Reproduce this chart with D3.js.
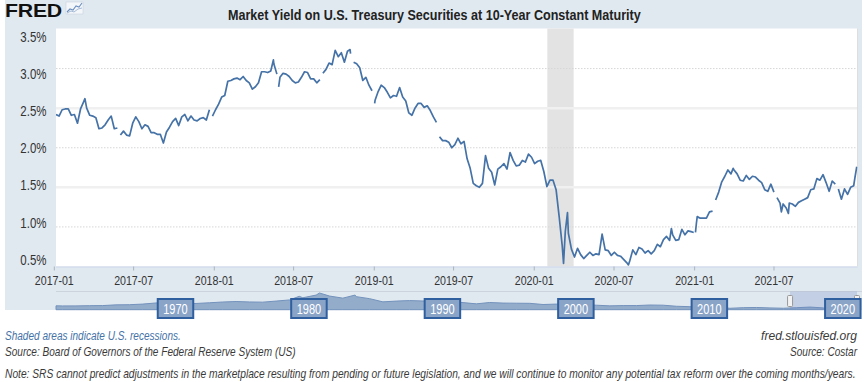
<!DOCTYPE html>
<html>
<head>
<meta charset="utf-8">
<script src="https://cdn.jsdelivr.net/npm/d3@7/dist/d3.min.js"></script>
<style>
  body { margin: 0; background: #fff; }
  svg { display: block; }
  text { font-family: "Liberation Sans", Arial, sans-serif; }
</style>
</head>
<body>
<svg id="chart" width="866" height="382"></svg>
<script>
const titleText = 'Market Yield on U.S. Treasury Securities at 10-Year Constant Maturity';
const yTickValues = [0.5, 1.0, 1.5, 2.0, 2.5, 3.0, 3.5];
const xTickLabels = ['2017-01', '2017-07', '2018-01', '2018-07', '2019-01', '2019-07', '2020-01', '2020-07', '2021-01', '2021-07'];
const recession = ['2020-02-01', '2020-04-01'];

// weekly (Friday) readings of the 10-year yield, %
const yields2017 = [2.42, 2.40, 2.48, 2.49, 2.49, 2.41, 2.42, 2.31, 2.49, 2.58, 2.50, 2.41, 2.40,
  2.38, 2.24, 2.25, 2.29, 2.35, 2.40, 2.24, 2.25, 2.16, 2.21, 2.16, 2.15, 2.31,
  2.39, 2.33, 2.24, 2.29, 2.27, 2.19, 2.19, 2.17, 2.17, 2.06, 2.20, 2.26, 2.33,
  2.37, 2.28, 2.39, 2.42, 2.34, 2.40, 2.35, 2.34, 2.37, 2.38, 2.35, 2.48, 2.40];
const yields2018 = [2.48, 2.55, 2.64, 2.66, 2.84, 2.85, 2.87, 2.88, 2.86, 2.90, 2.85, 2.82, 2.74,
  2.77, 2.82, 2.96, 2.96, 2.95, 2.97, 3.06, 2.93, 2.89, 2.94, 2.93, 2.90, 2.85,
  2.82, 2.83, 2.89, 2.96, 2.95, 2.87, 2.87, 2.82, 2.86, 2.94, 2.99, 3.07, 3.05,
  3.23, 3.15, 3.20, 3.08, 3.22, 3.19, 3.08, 3.06, 3.01, 2.85, 2.89, 2.79, 2.72];
const yields2019 = [2.60, 2.71, 2.79, 2.76, 2.70, 2.63, 2.66, 2.65, 2.76, 2.64, 2.59, 2.44, 2.41,
  2.50, 2.56, 2.56, 2.51, 2.53, 2.47, 2.39, 2.32, 2.14, 2.09, 2.09, 2.07, 2.00,
  2.04, 2.12, 2.05, 2.08, 1.86, 1.74, 1.55, 1.52, 1.50, 1.55, 1.90, 1.74, 1.69,
  1.53, 1.73, 1.76, 1.80, 1.73, 1.94, 1.84, 1.77, 1.78, 1.84, 1.82, 1.92, 1.88];
const yields2020 = [1.80, 1.83, 1.84, 1.70, 1.51, 1.59, 1.59, 1.47, 1.13, 0.76, 0.94, 0.92, 0.72,
  0.62, 0.73, 0.65, 0.60, 0.64, 0.68, 0.64, 0.66, 0.65, 0.91, 0.71, 0.70, 0.64,
  0.68, 0.64, 0.63, 0.59, 0.55, 0.57, 0.71, 0.65, 0.74, 0.72, 0.67, 0.70, 0.66,
  0.70, 0.78, 0.75, 0.84, 0.88, 0.83, 0.90, 0.83, 0.84, 0.97, 0.90, 0.95, 0.94];
const yields2021 = [null, 1.13, 1.11, 1.11, 1.11, 1.19, 1.20, 1.34, 1.44, 1.57, 1.64, 1.72, 1.67,
  1.72, 1.67, 1.59, 1.58, 1.65, 1.60, 1.64, 1.63, 1.59, 1.56, 1.47, 1.45, 1.54,
  1.44, 1.37, 1.30, 1.29, 1.24, 1.30, 1.29, 1.26, 1.31, 1.33, 1.35, 1.37, 1.47,
  1.48, 1.61, 1.59, 1.66, 1.56, 1.45, 1.58, 1.54, 1.48, 1.35, 1.48, 1.41, 1.50, 1.52];
const yields2022 = [1.76];

// mid-week highs / lows that show in the picture
const extraPoints = [
  ['2017-03-13', 2.62], ['2018-05-17', 3.11], ['2018-05-29', 2.77], ['2018-11-08', 3.24],
  ['2019-01-03', 2.56], ['2020-03-09', 0.54], ['2020-03-18', 1.18], ['2020-08-04', 0.52],
  ['2020-11-10', 0.98], ['2020-12-31', 0.93], ['2021-01-04', 0.93], ['2021-01-06', 1.04],
  ['2021-03-31', 1.74], ['2021-07-19', 1.19], ['2021-08-04', 1.17], ['2022-01-03', 1.63]
];
// holidays with no reading (breaks in the line)
const gapDates = ['2017-05-29', '2017-12-25', '2018-05-28', '2018-09-03', '2018-11-12',
  '2019-01-01', '2019-05-27', '2021-02-15', '2021-07-05', '2021-11-25'];

// navigator: annual averages 1962-2021
const navFirstYear = 1962;
const navAnnual = [3.95, 4.00, 4.19, 4.28, 4.93, 5.07, 5.64, 6.67, 7.35, 6.16,
  6.21, 6.85, 7.56, 7.99, 7.61, 7.42, 8.41, 9.43, 11.43, 13.92,
  13.01, 11.10, 12.46, 10.62, 7.67, 8.39, 8.85, 8.49, 8.55, 7.86,
  7.01, 5.87, 7.09, 6.57, 6.44, 6.35, 5.26, 5.65, 6.03, 5.02,
  4.61, 4.01, 4.27, 4.29, 4.80, 4.63, 3.66, 3.26, 3.22, 2.78,
  1.80, 2.35, 2.54, 2.14, 1.84, 2.33, 2.91, 2.14, 0.89, 1.45];
const navExtra = [['1962-01-02', 4.06], ['1980-03-25', 12.75], ['1981-09-30', 15.8],
  ['1984-05-30', 13.9], ['2020-03-09', 0.54], ['2022-01-07', 1.76]];
const navLabelYears = [1970, 1980, 1990, 2000, 2010, 2020];
const selectedRange = ['2017-01-01', '2022-01-07'];

const footLeft = ['Shaded areas indicate U.S. recessions.', 'Source: Board of Governors of the Federal Reserve System (US)'];
const footRight = ['fred.stlouisfed.org', 'Source: Costar'];
const noteText = 'Note: SRS cannot predict adjustments in the marketplace resulting from pending or future legislation, and we will continue to monitor any potential tax reform over the coming months/years.';

const parse = d3.timeParse('%Y-%m-%d');
const svg = d3.select('#chart');
const narrow = 0.82;  // no narrow face installed, squeeze the regular one

// squeeze a text horizontally to a given width (or to narrow * its own width)
function fit(sel, width) {
  sel.each(function () {
    const t = d3.select(this);
    const w = this.getComputedTextLength();
    const k = width ? width / w : narrow;
    const x0 = +t.attr('x') || 0, y0 = +t.attr('y') || 0;
    t.attr('x', 0).attr('y', 0)
      .attr('transform', `translate(${x0},${y0}) scale(${k.toFixed(4)},1)`);
  });
}

// build series
const fridays = d3.timeFriday.range(new Date(2017, 0, 1), new Date(2022, 0, 8));
const weekly = [].concat(yields2017, yields2018, yields2019, yields2020, yields2021, yields2022);
const byTime = new Map();
fridays.forEach((d, i) => byTime.set(+d, {date: d, value: weekly[i]}));
extraPoints.forEach(([d, v]) => byTime.set(+parse(d), {date: parse(d), value: v}));
gapDates.forEach((d) => byTime.set(+parse(d), {date: parse(d), value: null}));
const series = Array.from(byTime.values()).sort((a, b) => a.date - b.date);

const navData = navAnnual.map((v, i) => ({date: new Date(navFirstYear + i, 6, 1), value: v}))
  .concat(navExtra.map(([d, v]) => ({date: parse(d), value: v})))
  .sort((a, b) => a.date - b.date);

// layout
const plotL = 56, plotR = 857.5, plotT = 28.5, plotB = 266.5;

svg.append('rect')
  .attr('x', 5).attr('y', 0).attr('width', 857).attr('height', 310)
  .attr('fill', '#e1e9f0');

svg.append('rect')
  .attr('x', plotL).attr('y', plotT).attr('width', plotR - plotL).attr('height', plotB - plotT)
  .attr('fill', '#ffffff');

const x = d3.scaleTime()
  .domain([new Date(2017, 0, 6), new Date(2022, 0, 8)])
  .range([plotL, 857.2]);
const y = d3.scaleLinear().domain([0.5, 3.5]).range([plotB, 29]);
const yLabel = d3.scaleLinear().domain([3.5, 0.5]).range([37.3, 259.5]);

// recession shade
svg.append('rect')
  .attr('class', 'recession')
  .attr('x', x(parse(recession[0])))
  .attr('y', plotT)
  .attr('width', x(parse(recession[1])) - x(parse(recession[0])))
  .attr('height', plotB - plotT)
  .attr('fill', '#e3e3e3');

// gridlines
const grid = svg.append('g').attr('class', 'grid');
grid.selectAll('line')
  .data(yTickValues.filter((v) => v > 0.5 && v < 3.5))
  .enter()
  .append('line')
    .attr('x1', plotL).attr('x2', plotR)
    .attr('y1', (d) => y(d)).attr('y2', (d) => y(d))
    .attr('stroke', (d) => (d * 2) % 2 === 1 ? '#f0f0f0' : '#d6d6d6')
    .attr('stroke-width', (d) => (d * 2) % 2 === 1 ? 2.5 : 1)
    .attr('stroke-dasharray', (d) => (d * 2) % 2 === 1 ? null : '1.5,1.5');

svg.append('line')
  .attr('x1', plotR).attr('x2', plotR).attr('y1', plotT).attr('y2', plotB)
  .attr('stroke', '#dedede');

// x axis
const xTicks = xTickLabels.map((s) => parse(s + '-01'));
const xAxis = svg.append('g')
  .attr('transform', `translate(0,${plotB})`)
  .call(d3.axisBottom(x).tickValues(xTicks).tickFormat(d3.timeFormat('%Y-%m')).tickSize(4).tickPadding(5));
xAxis.attr('font-family', null).attr('font-size', null);
xAxis.select('.domain').attr('stroke', '#ccd6eb').attr('d', `M${plotL},0.5H${plotR}`);
xAxis.selectAll('.tick line').attr('stroke', '#aab4c0');
xAxis.selectAll('.tick text')
  .attr('fill', '#333')
  .style('font-size', '13.5px')
  .call(fit, 39);

// y labels
svg.append('g')
  .selectAll('text')
  .data(yTickValues)
  .enter()
  .append('text')
    .attr('x', 46.5)
    .attr('y', (d) => yLabel(d))
    .attr('dy', '0.36em')
    .attr('text-anchor', 'end')
    .attr('fill', '#333')
    .style('font-size', '14px')
    .text((d) => d.toFixed(1) + '%')
    .call(fit);

// main line
svg.append('clipPath').attr('id', 'plotClip')
  .append('rect').attr('x', plotL).attr('y', plotT - 2).attr('width', plotR - plotL).attr('height', plotB - plotT + 4);

const line = d3.line()
  .defined((d) => d.value != null)
  .x((d) => x(d.date))
  .y((d) => y(d.value));

svg.append('path')
  .datum(series)
  .attr('clip-path', 'url(#plotClip)')
  .attr('fill', 'none')
  .attr('stroke', '#4572a7')
  .attr('stroke-width', 1.7)
  .attr('stroke-linejoin', 'round')
  .attr('d', line);

// title
svg.append('text')
  .attr('x', 228).attr('y', 20)
  .attr('fill', '#222')
  .style('font-size', '14px')
  .style('font-weight', 'bold')
  .text(titleText)
  .call(fit, 413);

// logo
const logo = svg.append('g').attr('class', 'logo');
logo.append('text')
  .attr('x', 5).attr('y', 16.5)
  .attr('fill', '#111')
  .style('font-size', '18px')
  .style('font-weight', '900')
  .style('letter-spacing', '-0.2px')
  .text('FRED')
  .call(fit, 57);
logo.append('rect').attr('x', 66).attr('y', 2).attr('width', 17).attr('height', 12)
  .attr('fill', '#f4f7fa').attr('stroke', '#c7d2de').attr('stroke-width', 0.6);
logo.append('path').attr('d', 'M67,12 L70,9 L73,10 L76,6 L79,7 L82,3')
  .attr('fill', 'none').attr('stroke', '#6d8fc0').attr('stroke-width', 1.1);
logo.append('path').attr('d', 'M67,13 L71,11 L74,12 L78,9 L82,8')
  .attr('fill', 'none').attr('stroke', '#9bb3d3').attr('stroke-width', 0.9);

// navigator
const navT = 291.5, navB = 309.7;
const xNav = d3.scaleTime()
  .domain([parse('1962-01-02'), parse('2022-01-07')])
  .range([plotL, 857]);
const yNav = d3.scaleLinear().domain([0.5, 15.8]).range([navB, 293]);

svg.append('line')
  .attr('x1', plotL).attr('x2', 862).attr('y1', navT).attr('y2', navT)
  .attr('stroke', '#ccd3dc').attr('stroke-width', 1);

svg.append('path')
  .datum(navData)
  .attr('fill', '#93acca')
  .attr('stroke', '#7392bc')
  .attr('stroke-width', 1)
  .attr('d', d3.area().x((d) => xNav(d.date)).y0(navB).y1((d) => yNav(d.value)));

const selL = xNav(parse(selectedRange[0])), selR = xNav(parse(selectedRange[1]));
svg.append('rect')
  .attr('x', selL).attr('y', navT).attr('width', selR - selL).attr('height', navB - navT)
  .attr('fill', 'rgba(102,133,194,0.25)');

svg.selectAll('.handle')
  .data([selL, selR])
  .enter()
  .append('rect')
    .attr('class', 'handle')
    .attr('x', (d) => d - 2.5).attr('y', 295.5)
    .attr('width', 5).attr('height', 11).attr('rx', 1)
    .attr('fill', '#f2f2f2').attr('stroke', '#999').attr('stroke-width', 1);

const navLabels = svg.selectAll('.nav-label')
  .data(navLabelYears)
  .enter()
  .append('g')
    .attr('class', 'nav-label')
    .attr('transform', (d) => `translate(${xNav(new Date(d, 0, 1)) - 5},299)`);
navLabels.append('rect')
  .attr('x', 0).attr('y', 0).attr('width', 35.5).attr('height', 19)
  .attr('fill', '#8aa4c8').attr('stroke', '#2f5f9f').attr('stroke-width', 2);
navLabels.append('text')
  .attr('x', 5.5).attr('y', 14.6)
  .attr('fill', '#fff')
  .style('font-size', '14px')
  .text((d) => d)
  .call(fit, 24.5);

// footer
const footW = [176, 291];
svg.selectAll('.foot-left')
  .data(footLeft)
  .enter()
  .append('text')
    .attr('class', 'foot-left')
    .attr('x', 5).attr('y', (d, i) => 340 + i * 16)
    .attr('fill', (d, i) => i === 0 ? '#4572a7' : '#3a3a3a')
    .style('font-size', '12.5px').style('font-style', 'italic')
    .text((d) => d)
    .each(function (d, i) { fit(d3.select(this), footW[i]); });

const footRW = [96, 67];
svg.selectAll('.foot-right')
  .data(footRight)
  .enter()
  .append('text')
    .attr('class', 'foot-right')
    .attr('x', 857).attr('y', (d, i) => 340 + i * 16)
    .attr('text-anchor', 'end')
    .attr('fill', '#3a3a3a')
    .style('font-size', '12.5px').style('font-style', 'italic')
    .text((d) => d)
    .each(function (d, i) { fit(d3.select(this), footRW[i]); });

svg.append('text')
  .attr('x', 5).attr('y', 378)
  .attr('fill', '#3a3a3a')
  .style('font-size', '12.5px').style('font-style', 'italic')
  .text(noteText)
  .call(fit, 852);
</script>
</body>
</html>
